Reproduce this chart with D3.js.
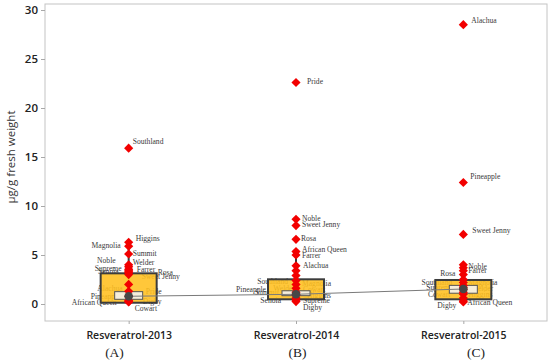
<!DOCTYPE html>
<html><head><meta charset="utf-8">
<script src="https://cdn.jsdelivr.net/npm/d3@7"></script>
<style>body{margin:0;background:#fff}svg{display:block}</style>
</head><body><svg id="c" width="550" height="362"></svg>
<script>
// ---------- data ----------
const categories = ["Resveratrol-2013", "Resveratrol-2014", "Resveratrol-2015"];
const captions = ["(A)", "(B)", "(C)"];
const yTicks = [0, 5, 10, 15, 20, 25, 30];
const yTitle = "μg/g fresh weight";

const names2013 = ["Southland","Higgins","Magnolia","Summit","Welder","Noble","Farrer","Supreme","Senoia","Rosa","Sweet Jenny","Alachua","Pride","Pineapple","African Queen","Digby","Cowart"];
const values2013 = [15.9, 6.3, 5.9, 5.1, 4.0, 3.8, 3.55, 3.45, 3.3, 3.2, 3.0, 2.0, 1.3, 0.8, 0.35, 0.25, 0.2];

const names2014 = ["Pride","Noble","Sweet Jenny","Rosa","African Queen","Farrer","Alachua","Southland","Magnolia","Pineapple","Summit","Welder","Cowart","Higgins","Supreme","Senoia","Digby"];
const values2014 = [22.6, 8.65, 8.0, 6.6, 5.35, 5.0, 3.9, 3.4, 2.9, 2.4, 2.0, 1.6, 1.2, 0.9, 0.6, 0.4, 0.25];

const names2015 = ["Alachua","Pineapple","Sweet Jenny","Noble","Farrer","Rosa","Pride","Southland","Magnolia","Supreme","Welder","Senoia","Cowart","Higgins","Summit","Digby","African Queen"];
const values2015 = [28.5, 12.4, 7.1, 4.0, 3.7, 3.4, 3.0, 2.5, 2.2, 1.9, 1.7, 1.5, 1.2, 1.0, 0.6, 0.3, 0.2];

// box-plot summaries
const q1 = [0.13, 0.48, 0.48];
const q3 = [3.13, 2.52, 2.45];
const medians = [0.79, 0.99, 1.53];
const ciLow = [0.48, 0.85, 1.1];
const ciHigh = [1.26, 1.35, 1.9];
const whiskerLow = [0.2, 0.25, 0.2];
const whiskerHigh = [6.3, 5.35, 4.0];

// ---------- label layout (anchor, dx px, dy px) ----------
const layout2013 = [["s",4,-7],["s",7,-4],["e",-8,-1],["s",4,-1],["s",4,-2],["e",-13,-6],["s",8,0],["e",-7,-2],["e",-10,0],["s",29,0],["s",13,2],["e",-6,4],["s",17,0],["e",-8,0.5],["e",-12,1.7],["s",14,-0.5],["s",6,6]];
const layout2014 = [["s",11,-1],["s",6,-1],["s",6,-1],["s",5,-1],["s",6,-2.5],["s",6,0.5],["s",7,0],["e",-8,11],["s",6,7.7],["e",-30,9.5],["e",-17,8.3],["e",-1,0],["s",7,-3],["s",11,0],["s",7,2.6],["e",-15,0],["s",7,5.7]];
const layout2015 = [["s",8,-4],["s",7,-5.5],["s",9,-3.5],["s",5,1.5],["s",5,3],["e",-8,2.6],null,["e",-11,3.2],["s",5,0.3],["e",-10,2],["s",8,1],null,["e",-13,2],["s",5,0],null,["e",-7,4],["s",4,0.3]];

const series = [
  {names: names2013, values: values2013, layout: layout2013},
  {names: names2014, values: values2014, layout: layout2014},
  {names: names2015, values: values2015, layout: layout2015}
];

// ---------- drawing ----------
const svg = d3.select("#c");
const plot = {left: 45, right: 547, top: 4, bottom: 321};
const x = d3.scalePoint().domain(categories).range([plot.left, plot.right]).padding(0.5);
const y = d3.scaleLinear().domain([0, 30]).range([304, 10]);
const boxW = 56, ciW = 28;
const sansFont = "'Open Sans', 'Noto Sans', sans-serif";
const serifFont = "'Liberation Serif', 'Times New Roman', serif";

// frame
svg.append("rect").attr("x", plot.left).attr("y", plot.top)
  .attr("width", plot.right - plot.left).attr("height", plot.bottom - plot.top)
  .attr("fill", "none").attr("stroke", "#c4c4c4").attr("stroke-width", 1);

// y axis
const gy = svg.append("g").attr("transform", `translate(${plot.left},0)`)
  .call(d3.axisLeft(y).tickValues(yTicks).tickSize(4).tickPadding(3).tickFormat(d3.format("d")));
gy.select(".domain").remove();
gy.selectAll(".tick line").attr("stroke", "#a8a8a8");
gy.selectAll(".tick text").attr("font-family", sansFont).attr("font-size", 11.5)
  .attr("font-weight", 600).attr("fill", "#222");

// x axis
const gx = svg.append("g").attr("transform", `translate(0,${plot.bottom})`)
  .call(d3.axisBottom(x).tickSize(3).tickPadding(8));
gx.select(".domain").remove();
gx.selectAll(".tick line").attr("stroke", "#a8a8a8");
gx.selectAll(".tick text").attr("font-family", sansFont).attr("font-size", 10.5)
  .attr("font-weight", 600).attr("fill", "#222");

// y title
svg.append("text").attr("transform", "translate(15,157) rotate(-90)")
  .attr("text-anchor", "middle").attr("font-family", sansFont).attr("font-size", 11.5)
  .attr("fill", "#333").text(yTitle);

// captions
const capX = [114.5, 297.5, 476];
svg.selectAll("text.cap").data(captions).join("text").attr("class", "cap")
  .attr("x", (d, i) => capX[i]).attr("y", 357).attr("text-anchor", "middle")
  .attr("font-family", serifFont).attr("font-size", 13.5).attr("fill", "#222").text(d => d);

// point labels (beneath the boxes)
const gl = svg.append("g");
series.forEach((s, i) => {
  const cx = x(categories[i]);
  s.names.forEach((n, j) => {
    const L = s.layout[j];
    if (!L) return;
    gl.append("text")
      .attr("x", cx + L[1]).attr("y", y(s.values[j]) + L[2]).attr("dy", "0.33em")
      .attr("text-anchor", L[0] === "s" ? "start" : "end")
      .attr("font-family", serifFont).attr("font-size", 7.6).attr("fill", "#3a3a3a")
      .text(n);
  });
});

// whiskers
categories.forEach((c, i) => {
  const cx = x(c);
  svg.append("line").attr("x1", cx).attr("x2", cx).attr("y1", y(q3[i])).attr("y2", y(whiskerHigh[i]))
    .attr("stroke", "#3c3c3c").attr("stroke-width", 2);
  svg.append("line").attr("x1", cx).attr("x2", cx).attr("y1", y(q1[i])).attr("y2", y(whiskerLow[i]))
    .attr("stroke", "#3c3c3c").attr("stroke-width", 2);
});

// boxes
svg.selectAll("rect.box").data(categories).join("rect").attr("class", "box")
  .attr("x", d => x(d) - boxW / 2).attr("width", boxW)
  .attr("y", (d, i) => y(q3[i])).attr("height", (d, i) => y(q1[i]) - y(q3[i]))
  .attr("fill", "#ffbf1f").attr("fill-opacity", 0.88)
  .attr("stroke", "#3c3c3c").attr("stroke-width", 2);

// median CI boxes
svg.selectAll("rect.ci").data(categories).join("rect").attr("class", "ci")
  .attr("x", d => x(d) - ciW / 2).attr("width", ciW)
  .attr("y", (d, i) => y(ciHigh[i])).attr("height", (d, i) => y(ciLow[i]) - y(ciHigh[i]))
  .attr("fill", "#f6eedb").attr("stroke", "#555").attr("stroke-width", 1);

// median connect line
svg.append("path")
  .attr("d", d3.line().x((d, i) => x(categories[i])).y(d => y(d))(medians))
  .attr("fill", "none").attr("stroke", "#7a7a7a").attr("stroke-width", 1);

// points
const diamond = d3.symbol().type(d3.symbolSquare).size(42);
series.forEach((s, i) => {
  const cx = x(categories[i]);
  svg.append("g").selectAll("path").data(s.values).join("path")
    .attr("d", diamond)
    .attr("transform", d => `translate(${cx},${y(d)}) rotate(45)`)
    .attr("fill", "#f20000");
});

// median symbols
svg.selectAll("circle.med").data(medians).join("circle").attr("class", "med")
  .attr("cx", (d, i) => x(categories[i])).attr("cy", d => y(d)).attr("r", 4.3)
  .attr("fill", "#474747");
</script></body></html>
